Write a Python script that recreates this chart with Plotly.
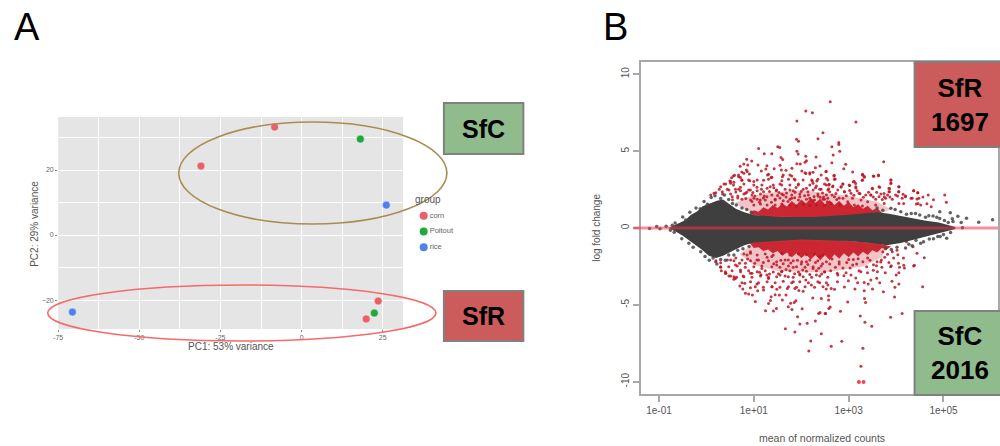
import plotly.graph_objects as go

# ---------- Panel A: PCA ----------
pc1_corn = [-8.3, -31.0, 23.6, 19.9]
pc2_corn = [33.2, 21.2, -20.3, -25.8]
pc1_poitout = [18.1, 22.4]
pc2_poitout = [29.5, -24.0]
pc1_rice = [26.1, -70.6]
pc2_rice = [9.2, -23.7]
legend_groups = ["corn", "Poitout", "rice"]
color_corn, color_poitout, color_rice = "#e8606a", "#1fa83c", "#5080ee"

# ---------- Panel B: MA plot (log10 mean, log fold change) ----------
# outline of the solid grey cloud of non-significant genes
grey_upper = [(-0.8, 0), (-0.6, 0.28), (-0.45, 0.5), (-0.33, 0.85), (-0.2, 1.08), (-0.08, 1.42), (0.08, 1.6), (0.22, 1.78), (0.35, 1.85), (0.5, 1.5),
              (0.62, 1.25), (0.8, 1.02), (1.0, 0.85), (1.55, 0.72), (2.25, 0.72), (2.94, 0.85), (3.3, 0.92), (3.6, 1.02), (3.85, 0.92), (4.1, 0.78),
              (4.3, 0.62), (4.6, 0.48), (4.9, 0.35), (5.25, 0.06)]
grey_lower = [(5.25, -0.06), (4.95, -0.3), (4.6, -0.55), (4.35, -0.75), (4.1, -0.98), (3.8, -1.12), (3.5, -1.0), (3.0, -0.85), (2.0, -0.75), (1.0, -0.95),
              (0.8, -1.12), (0.62, -1.38), (0.48, -1.58), (0.35, -1.8), (0.2, -1.95), (0.05, -1.8), (-0.1, -1.4), (-0.22, -1.12), (-0.35, -0.82), (-0.5, -0.5),
              (-0.65, -0.22), (-0.8, 0)]
# outline of the thick red bands just above and below the grey cloud
red_dense_upper = [(0.9, 0.9), (1.0, 1.15), (1.1, 1.05), (1.2, 1.35), (1.3, 1.2), (1.4, 1.5), (1.5, 1.3), (1.6, 1.6), (1.7, 1.4), (1.8, 1.75), (1.9, 1.5),
                   (2.0, 1.85), (2.1, 1.6), (2.2, 1.95), (2.3, 1.65), (2.4, 1.9), (2.5, 1.55), (2.6, 1.8), (2.7, 1.5), (2.8, 1.75), (2.9, 1.45), (3.0, 1.7),
                   (3.1, 1.35), (3.2, 1.55), (3.3, 1.25), (3.4, 1.45), (3.5, 1.15), (3.6, 1.3), (3.7, 1.0), (3.8, 1.1), (3.6, 0.9), (2.5, 0.6), (1.5, 0.6)]
red_dense_lower = [(0.9, -0.95), (1.5, -0.7), (2.5, -0.7), (3.6, -1.0), (3.9, -1.2), (3.8, -1.4), (3.7, -1.3), (3.6, -1.6), (3.5, -1.45), (3.4, -1.75),
                   (3.3, -1.55), (3.2, -1.85), (3.1, -1.6), (3.0, -1.9), (2.9, -1.65), (2.8, -2.0), (2.7, -1.7), (2.6, -2.1), (2.5, -1.75), (2.4, -2.1),
                   (2.3, -1.75), (2.2, -2.05), (2.1, -1.7), (2.0, -1.95), (1.9, -1.65), (1.8, -1.9), (1.7, -1.6), (1.6, -1.8), (1.5, -1.5), (1.4, -1.65),
                   (1.3, -1.4), (1.2, -1.5), (1.1, -1.25), (1.0, -1.3)]
# outline of the looser red speckle
red_loose_upper = [(0.6, 1.6), (0.85, 2.0), (1.3, 2.3), (2.0, 2.45), (3.0, 2.1), (3.6, 1.7), (3.9, 1.2), (3.6, 0.9), (2.0, 0.7), (1.0, 0.9)]
red_loose_lower = [(0.7, -1.7), (1.0, -2.4), (1.5, -2.8), (2.5, -2.9), (3.3, -2.5), (3.7, -1.9), (3.8, -1.15), (3.0, -0.9), (2.0, -0.8), (1.0, -1.0)]
# individually readable genes
sig_genes = [
    (2.096, 7.61), (2.235, 7.5), (1.908, 6.96), (2.458, 6.2), (2.353, 5.81), (1.9, 5.77), (1.943, 5.64), (1.101, 5.18), (1.504, 5.29),
    (1.546, 5.23), (1.908, 5.0), (1.936, 4.81), (1.219, 4.83), (1.379, 4.83), (1.574, 4.58), (1.609, 4.45), (2.096, 4.66), (2.312, 4.62),
    (2.11, 4.38), (2.08, 4.27), (0.85, 4.47), (0.955, 4.36), (0.788, 4.16), (0.871, 4.1), (0.711, 4.01), (1.087, 4.1), (1.275, 4.05),
    (1.553, 4.08), (1.908, 4.18), (1.978, 4.16), (2.395, 4.03), (2.298, 3.92), (1.428, 3.86), (1.254, 3.84), (1.581, 3.77), (1.678, 3.75),
    (1.804, 3.88), (2.012, 3.71), (2.527, 3.69), (0.843, 3.77), (0.746, 3.64), (1.157, 3.71), (0.593, 3.43), (0.676, 3.45), (0.906, 3.51),
    (1.31, 3.49), (2.096, 3.55), (2.18, 3.51), (2.249, 3.62), (0.53, 3.27), (0.718, 3.29), (0.913, 3.08), (1.0, 3.03), (1.205, 3.1),
    (1.365, 3.29), (1.602, 3.34), (1.762, 3.45), (1.852, 3.19), (2.235, 3.06), (2.33, 3.06), (0.495, 3.06), (0.579, 2.97), (0.746, 3.1),
    (2.611, 8.22), (3.154, 6.9), (2.792, 5.57), (2.792, 5.44), (2.646, 5.29), (2.813, 4.99), (2.674, 4.75), (2.646, 4.25), (2.938, 4.14),
    (3.739, 4.31), (2.897, 3.86), (2.521, 3.66), (3.085, 3.64), (2.695, 3.43), (3.293, 3.49), (3.328, 3.36), (3.53, 3.36), (3.627, 3.4),
    (2.716, 3.19), (3.286, 3.1), (3.892, 3.12), (3.892, 2.93), (3.098, 3.01), (3.147, 2.9), (2.876, 2.86), (3.022, 2.77), (2.841, 2.67),
    (2.59, 2.84), (2.66, 2.69), (3.502, 2.56), (3.655, 2.65), (4.059, 2.69), (3.864, 2.56), (4.372, 2.43), (4.455, 2.3), (4.052, 2.36),
    (3.85, 2.36), (3.238, 2.23), (3.154, 2.6), (4.149, 2.19), (4.198, 2.04), (4.031, 2.08), (4.316, 1.93), (4.441, 1.89), (4.567, 2.02),
    (4.678, 2.15), (4.789, 1.84), (5.026, 2.15), (5.061, 1.67), (4.65, 1.58), (4.462, 1.6), (2.91, 2.36), (3.467, 2.15), (3.641, 2.04),
    (3.746, 2.25), (3.78, 1.93),
    (0.09, 2.15), (0.196, 2.3), (0.3, 2.69), (0.405, 2.86), (0.51, 2.91), (0.335, 2.36), (0.474, 2.47), (0.613, 2.52), (0.718, 2.65),
    (0.544, 2.04), (0.662, 2.08), (0.822, 2.26), (0.927, 2.47), (1.066, 2.65), (1.205, 2.36), (1.344, 2.69), (1.47, 2.43), (1.588, 2.8),
    (1.762, 2.47), (1.936, 2.8), (2.11, 2.58), (2.249, 2.91), (2.388, 2.52), (2.527, 2.8), (1.0, 1.93), (1.135, 1.82), (1.275, 2.04),
    (1.449, 1.82), (1.623, 2.15), (1.797, 1.93), (1.97, 2.04), (2.18, 1.93), (2.353, 2.08), (2.492, 1.87),
    (0.927, -1.54), (0.857, -1.76), (0.196, -2.19), (0.3, -2.56), (0.405, -2.95), (0.51, -2.08), (0.613, -2.41), (0.579, -3.17),
    (0.718, -2.73), (0.822, -2.3), (0.961, -2.95), (1.066, -2.08), (1.17, -2.63), (1.275, -3.06), (1.379, -1.85), (1.483, -2.41),
    (1.588, -2.84), (1.727, -2.08), (1.831, -2.56), (1.97, -3.06), (2.11, -2.19), (2.249, -2.63), (2.388, -1.85), (2.492, -2.84),
    (2.159, -8.0), (2.2, -7.35), (2.423, -6.88), (1.866, -6.77), (1.665, -6.55), (1.971, -6.25), (2.124, -6.2), (2.298, -6.05), (1.922, -5.77),
    (1.247, -5.38), (1.414, -5.4), (1.477, -5.23), (1.727, -5.12), (1.804, -5.31), (1.776, -4.9), (1.852, -4.84), (1.887, -4.73), (2.019, -5.25),
    (2.395, -5.49), (2.367, -5.57), (2.506, -5.57), (2.583, -5.23), (1.31, -4.92), (1.031, -4.79), (1.602, -4.69), (1.351, -4.71), (1.365, -4.47),
    (1.449, -4.34), (1.539, -4.36), (1.678, -4.36), (0.822, -4.25), (0.892, -4.29), (0.969, -4.36), (1.95, -4.06), (2.04, -4.12), (2.242, -4.56),
    (2.423, -4.58), (0.767, -3.97), (0.704, -3.77), (0.809, -3.6), (0.927, -3.88), (1.066, -3.64), (1.08, -4.08), (1.205, -4.03), (1.386, -3.82),
    (1.484, -3.99), (1.706, -3.93), (1.866, -3.93), (1.832, -3.49), (2.214, -3.71), (2.388, -3.56), (2.527, -3.97), (0.579, -3.34), (0.635, -3.21),
    (0.475, -3.12), (0.405, -2.95), (0.314, -2.78), (0.774, -3.12), (0.927, -2.95), (1.15, -3.04), (1.31, -3.28), (1.553, -3.06), (1.727, -3.17),
    (1.971, -2.99), (2.096, -3.38), (2.319, -3.06),
    (3.258, -9.0), (3.3, -7.83), (2.632, -7.7), (2.855, -7.37), (3.488, -6.4), (3.342, -6.14), (3.245, -5.73), (3.885, -5.81), (4.128, -5.57),
    (2.827, -5.42), (2.514, -5.57), (2.611, -5.14), (2.98, -4.82), (3.356, -4.84), (3.335, -4.58), (3.968, -4.49), (2.577, -4.69), (2.577, -4.4),
    (3.732, -4.14), (4.56, -3.82), (3.502, -3.97), (3.328, -4.08), (3.975, -3.86), (4.059, -3.64), (3.913, -3.47), (3.655, -3.56), (3.412, -3.65),
    (3.328, -3.54), (3.467, -3.38), (3.189, -3.56), (3.133, -3.97), (2.91, -3.84), (2.994, -3.43), (2.764, -3.49), (2.632, -3.93), (2.702, -3.99),
    (2.563, -3.71), (4.003, -3.06), (4.059, -2.91), (4.177, -2.6), (4.073, -2.56), (4.386, -2.43), (3.899, -2.45), (3.773, -2.91), (3.592, -3.27),
    (3.523, -2.39), (3.676, -2.21), (3.606, -2.84), (3.398, -2.91), (3.258, -2.84), (3.085, -2.41), (2.945, -2.91), (2.771, -3.06),
    (4.442, -1.65), (4.595, -1.93), (4.156, -1.95), (4.038, -1.74), (4.372, -2.47), (4.163, -2.43), (3.885, -2.52), (3.69, -2.08), (3.586, -2.45),
    (4.358, -1.22), (4.219, -0.89), (4.518, 1.5), (4.428, 1.56), (4.741, 1.39),
]
# speckle of the upper red band
sig_upper_band = [
    (0.57, 3.38), (0.68, 3.34), (0.79, 3.56), (0.86, 3.67), (1.29, 3.45), (1.62, 3.45), (1.80, 3.38), (2.08, 3.60), (2.18, 3.60), (2.42, 3.45),
    (0.51, 3.02), (0.75, 3.12), (0.89, 3.12), (1.07, 3.12), (1.31, 3.17), (1.38, 3.30), (1.59, 3.08), (1.73, 3.17), (1.87, 3.12), (2.04, 3.12),
    (2.22, 3.12), (2.35, 3.17), (2.53, 3.23), (0.37, 2.86), (0.57, 2.80), (0.79, 2.86), (1.0, 2.80), (1.17, 2.80), (1.41, 2.80), (1.55, 2.86),
    (1.76, 2.80), (1.94, 2.86), (2.18, 2.80), (2.32, 2.73), (2.49, 2.86), (0.27, 2.52), (0.44, 2.52), (0.68, 2.52), (0.89, 2.47), (1.07, 2.43),
    (1.28, 2.58), (1.48, 2.47), (1.66, 2.52), (1.83, 2.43), (2.04, 2.52), (2.25, 2.47), (2.42, 2.52), (2.56, 2.47), (0.16, 2.26), (0.34, 2.21),
    (0.51, 2.21), (0.79, 2.21), (0.96, 2.15), (1.14, 2.21), (1.38, 2.15), (1.59, 2.21), (1.80, 2.15), (1.97, 2.21), (2.15, 2.15), (2.35, 2.21),
    (2.53, 2.15), (0.75, 1.87), (0.93, 1.82), (1.07, 1.87), (1.24, 1.82), (1.45, 1.87), (1.62, 1.78), (1.76, 1.87), (1.94, 1.82), (2.11, 1.87),
    (2.28, 1.82), (2.46, 1.87), (1.0, 1.50), (1.14, 1.56), (1.28, 1.50), (1.45, 1.50), (1.59, 1.56), (1.76, 1.50), (1.90, 1.43), (2.04, 1.54),
    (2.18, 1.47), (2.32, 1.52), (2.49, 1.47),
    (2.69, 3.38), (2.70, 3.17), (2.56, 3.12), (2.58, 2.80), (2.67, 2.73), (2.88, 2.86), (2.84, 2.69), (3.01, 2.80), (3.12, 3.02), (3.15, 2.69),
    (3.29, 3.45), (3.33, 3.30), (3.29, 3.12), (3.52, 3.38), (3.63, 3.45), (3.89, 3.12), (3.89, 2.90), (3.50, 2.58), (3.64, 2.69), (4.06, 2.69),
    (3.85, 2.58), (4.06, 2.36), (3.86, 2.36), (4.37, 2.43), (4.46, 2.30), (2.60, 2.36), (2.77, 2.47), (2.91, 2.36), (3.05, 2.26), (3.22, 2.26),
    (3.36, 2.15), (3.47, 2.15), (3.68, 2.21), (3.82, 2.15), (3.99, 2.15), (4.20, 2.08), (4.13, 1.93), (4.34, 1.93), (4.48, 1.93), (2.70, 2.04),
    (2.88, 1.93), (3.08, 1.93), (3.26, 1.82), (3.57, 1.87), (3.75, 2.04), (3.92, 1.87), (4.16, 1.60), (4.06, 1.60), (2.56, 1.93), (2.98, 1.71),
    (3.40, 1.71), (3.57, 1.50), (3.75, 1.60), (2.63, 1.60), (2.81, 1.50), (3.12, 1.50), (3.29, 1.43),
    (0.62, 2.35), (0.72, 2.42), (0.85, 2.33), (0.98, 2.31), (1.02, 2.08), (1.16, 2.52), (1.22, 2.08), (1.33, 2.37), (1.42, 2.62), (1.5, 2.12),
    (1.53, 2.31), (1.68, 2.02), (1.69, 2.28), (1.87, 2.33), (1.89, 2.63), (2.0, 2.38), (2.07, 2.1), (2.14, 2.36), (2.27, 2.05), (2.3, 2.62),
    (2.45, 2.28), (2.47, 2.02), (2.58, 2.55), (2.65, 2.14), (2.73, 2.25), (2.8, 1.95), (2.95, 2.1), (3.02, 2.44), (3.11, 2.13), (3.18, 2.42),
    (3.31, 2.0), (3.42, 2.33), (3.52, 2.02), (3.59, 2.33), (3.71, 1.86), (3.87, 2.02), (0.55, 1.83), (0.66, 1.95), (0.83, 1.92), (0.96, 1.72),
    (1.12, 1.68), (1.2, 1.95), (1.37, 1.68), (1.55, 1.95), (1.72, 1.72), (1.86, 1.96), (2.24, 1.78), (2.4, 2.0), (2.55, 1.7), (2.75, 1.85),
]
# speckle of the lower red band
sig_lower_band = [
    (0.20, -2.13), (0.30, -2.26), (0.44, -2.08), (0.58, -2.13), (0.75, -2.08), (0.93, -2.13), (1.10, -2.08), (1.31, -2.13), (1.48, -2.19),
    (1.66, -2.08), (1.83, -2.13), (2.01, -2.19), (2.18, -2.08), (2.35, -2.13), (2.53, -2.19), (0.30, -2.52), (0.47, -2.52), (0.65, -2.47),
    (0.82, -2.56), (1.0, -2.52), (1.17, -2.47), (1.38, -2.52), (1.55, -2.56), (1.73, -2.47), (1.90, -2.52), (2.08, -2.56), (2.25, -2.52),
    (2.42, -2.47), (0.40, -2.84), (0.54, -2.78), (0.72, -2.84), (0.89, -2.78), (1.07, -2.84), (1.24, -2.78), (1.41, -2.86), (1.59, -2.82),
    (1.76, -2.78), (1.94, -2.86), (2.11, -2.82), (2.32, -2.78), (2.49, -2.86), (0.51, -3.12), (0.61, -3.28), (0.79, -3.17), (0.96, -3.21),
    (1.14, -3.12), (1.31, -3.21), (1.48, -3.17), (1.66, -3.12), (1.83, -3.21), (2.04, -3.17), (2.22, -3.21), (2.39, -3.12), (2.56, -3.21),
    (0.75, -3.56), (0.93, -3.49), (1.10, -3.56), (1.28, -3.49), (1.45, -3.56), (1.62, -3.47), (1.80, -3.56), (1.97, -3.49), (2.15, -3.56),
    (2.35, -3.49), (2.53, -3.56), (1.03, -3.82), (1.20, -3.86), (1.38, -3.82), (1.55, -3.86), (1.73, -3.82), (1.90, -3.86), (2.08, -3.82),
    (2.28, -3.86), (2.46, -3.82), (0.79, -1.69), (0.93, -1.65), (1.07, -1.76), (1.24, -1.69), (1.41, -1.76), (1.59, -1.65), (1.76, -1.76),
    (1.94, -1.69), (2.11, -1.74), (2.28, -1.69), (2.46, -1.76),
    (0.62, -1.95), (0.7, -2.3), (0.87, -2.02), (1.02, -2.3), (1.2, -2.25), (1.28, -1.9), (1.42, -2.32), (1.57, -2.1), (1.62, -2.32), (1.78, -2.28),
    (1.92, -2.1), (2.0, -2.35), (2.14, -2.38), (2.3, -2.25), (2.45, -2.32), (2.6, -2.35), (2.65, -2.02), (2.72, -2.55), (2.8, -2.2), (2.88, -2.6),
    (2.96, -2.25), (3.03, -2.6), (3.1, -2.05), (3.17, -2.35), (3.22, -2.78), (3.3, -2.2), (3.38, -2.52), (3.45, -2.1), (3.52, -2.75), (3.6, -2.2),
    (3.7, -2.55), (3.76, -1.9), (3.85, -2.25), (3.95, -1.95), (4.05, -2.3), (2.62, -2.78), (2.76, -2.95), (2.9, -3.1), (3.05, -3.05), (3.15, -3.25),
    (1.12, -2.88), (1.33, -3.0), (1.52, -2.98), (1.68, -2.7), (1.86, -2.98), (2.03, -2.74), (2.18, -3.02), (2.37, -2.62), (2.43, -3.0),
    (3.72, -1.55), (3.82, -1.7), (3.92, -1.55), (4.02, -1.45), (3.4, -1.95), (3.2, -2.0), (3.0, -2.05), (2.8, -2.35),
]
capped_genes = [(3.217, -10.02), (3.314, -10.02)]
grey_genes = [(6.035, 0.54), (5.743, 0.37), (5.485, 0.63), (5.4, 0.02), (5.304, 0.76), (5.374, 0.35), (5.144, 1.0), (5.186, 0.6), (5.068, -0.67),
              (4.922, 1.06), (-1.05, 0.1), (-0.85, 0.12), (-0.98, -0.05), (-1.2, -0.03), (-0.72, 0.18), (-0.76, -0.15),
              (-0.66, 0.33), (-0.5, 0.72), (-0.44, 0.52), (-0.35, 1.02), (-0.22, 1.3), (-0.13, 1.25), (-0.05, 1.72), (0.02, 1.55), (0.1, 1.98), (0.18, 2.1),
              (0.3, 1.92), (0.38, 2.15), (0.47, 1.85), (0.55, 1.6), (0.63, 1.5), (0.75, 1.3), (0.85, 1.2), (0.95, 1.02),
              (-0.68, -0.28), (-0.52, -0.7), (-0.37, -1.0), (-0.28, -1.25), (-0.12, -1.55), (-0.03, -1.85), (0.06, -2.1), (0.14, -1.95), (0.22, -2.35),
              (0.3, -2.05), (0.4, -2.1), (0.47, -1.75), (0.58, -1.75), (0.66, -1.45), (0.77, -1.35), (0.9, -1.2),
              (3.6, 1.3), (3.72, 1.15), (3.89, 1.28), (3.98, 1.2), (4.1, 1.05), (4.22, 0.9), (4.32, 0.95), (4.41, 0.95), (4.5, 0.85), (4.62, 0.7), (4.69, 0.8),
              (4.78, 0.78), (4.86, 0.7), (4.92, 0.62), (5.02, 0.48), (5.1, 0.35), (5.2, 0.42),
              (3.78, -1.35), (3.9, -1.4), (4.02, -1.25), (4.2, -1.3), (4.27, -1.05), (4.34, -1.15), (4.42, -0.8), (4.52, -1.0), (4.58, -0.9), (4.7, -0.72),
              (4.79, -0.7), (4.88, -0.55), (4.93, -0.55), (5.0, -0.42), (5.15, -0.3)]


def xs(pairs):
    return [10 ** p[0] for p in pairs]


def ys(pairs):
    return [p[1] for p in pairs]


fig = go.Figure()

# Panel A traces
for name, px_, py_, c in [("corn", pc1_corn, pc2_corn, color_corn), ("Poitout", pc1_poitout, pc2_poitout, color_poitout),
                          ("rice", pc1_rice, pc2_rice, color_rice)]:
    fig.add_trace(go.Scatter(x=px_, y=py_, mode="markers", name=name, showlegend=False, xaxis="x", yaxis="y",
                             marker=dict(size=8, color=c, line=dict(color="rgba(255,255,255,0.5)", width=1))))
fig.add_trace(go.Scatter(x=[0, 0, 0], y=legend_groups, mode="markers+text", text=legend_groups, textposition="middle right",
                         textfont=dict(size=7.5, color="#666666", family="Liberation Sans"), showlegend=False, xaxis="x3", yaxis="y3",
                         marker=dict(size=8, color=[color_corn, color_poitout, color_rice])))

# Panel B traces
for outline, fc in [(red_loose_upper, "rgba(215,60,70,0.30)"), (red_loose_lower, "rgba(215,60,70,0.30)"),
                    (red_dense_upper, "rgba(196,10,24,0.85)"), (red_dense_lower, "rgba(196,10,24,0.85)")]:
    fig.add_trace(go.Scatter(x=xs(outline) + xs(outline[:1]), y=ys(outline) + ys(outline[:1]), mode="lines", fill="toself",
                             fillcolor=fc, line=dict(width=0), showlegend=False, xaxis="x2", yaxis="y2"))
all_sig = sig_genes + sig_upper_band + sig_lower_band
fig.add_trace(go.Scatter(x=xs(all_sig), y=ys(all_sig), mode="markers", showlegend=False, xaxis="x2", yaxis="y2",
                         marker=dict(size=3, color="#bb1525", opacity=0.85)))
fig.add_trace(go.Scatter(x=xs(grey_upper + grey_lower), y=ys(grey_upper + grey_lower), mode="lines", fill="toself",
                         fillcolor="#3f3f3f", line=dict(width=0), showlegend=False, xaxis="x2", yaxis="y2"))
fig.add_trace(go.Scatter(x=xs(grey_genes), y=ys(grey_genes), mode="markers", showlegend=False, xaxis="x2", yaxis="y2",
                         marker=dict(size=3.5, color="#464646", opacity=0.85)))
fig.add_trace(go.Scatter(x=xs(capped_genes), y=ys(capped_genes), mode="markers", showlegend=False, xaxis="x2", yaxis="y2",
                         marker=dict(size=4, color="#ee4455", symbol="circle")))

GRID = dict(showgrid=True, gridcolor="white", gridwidth=1.2, zeroline=False, ticks="outside", ticklen=2, tickcolor="#888888",
            tickfont=dict(size=7, color="#666666", family="Liberation Sans"))
RAXIS = dict(showgrid=False, zeroline=False, showline=True, linecolor="#a8a8a8", linewidth=2, mirror=True, ticks="outside", ticklen=6,
             tickwidth=1.5, tickcolor="#a8a8a8", tickfont=dict(size=10, color="#555555", family="Liberation Sans"))

pca_x_range = [-75, 31.3]
pca_y_range = [-28.9, 36.3]

shapes = [
    dict(type="rect", xref="x", yref="y", x0=pca_x_range[0], x1=pca_x_range[1], y0=pca_y_range[0], y1=pca_y_range[1],
         fillcolor="#e5e5e5", line=dict(width=0), layer="below"),
    dict(type="circle", xref="paper", yref="paper", x0=0.175, x1=0.445, y0=1 - 224 / 446, y1=1 - 122 / 446,
         line=dict(color="#a98c52", width=1.6)),
    dict(type="circle", xref="paper", yref="paper", x0=0.043, x1=0.434, y0=1 - 341 / 446, y1=1 - 285 / 446,
         line=dict(color="#f56a6a", width=1.6)),
    dict(type="line", xref="paper", yref="y2", x0=0.633, x1=1.0, y0=0, y1=0, line=dict(color="rgba(250,50,75,0.55)", width=3)),
    dict(type="rect", xref="paper", yref="paper", x0=0.442, x1=0.522, y0=1 - 154 / 446, y1=1 - 103 / 446,
         fillcolor="#8fbb8d", line=dict(color="#808080", width=2)),
    dict(type="rect", xref="paper", yref="paper", x0=0.442, x1=0.522, y0=1 - 341 / 446, y1=1 - 291 / 446,
         fillcolor="#cc5c5c", line=dict(color="#808080", width=2)),
    dict(type="rect", xref="paper", yref="paper", x0=0.916, x1=1.005, y0=1 - 147 / 446, y1=1 - 62 / 446,
         fillcolor="#cc5c5c", line=dict(color="#808080", width=2)),
    dict(type="rect", xref="paper", yref="paper", x0=0.916, x1=1.005, y0=1 - 395 / 446, y1=1 - 311 / 446,
         fillcolor="#8fbb8d", line=dict(color="#808080", width=2)),
]


def note(text, x, y, size, color="black", bold=False, angle=0):
    return dict(text=f"<b>{text}</b>" if bold else text, x=x / 1000, y=1 - y / 446, xref="paper", yref="paper", showarrow=False,
                xanchor="center", yanchor="middle", textangle=angle, font=dict(size=size, color=color, family="Liberation Sans"))


annotations = [
    note("A", 22, 27, 38), note("B", 615, 27, 38),
    note("SfC", 482, 129, 25, bold=True), note("SfR", 482, 316, 25, bold=True),
    note("SfR<br>1697", 962, 105, 26, bold=True), note("SfC<br>2016", 962, 353, 26, bold=True),
    note("PC1: 53% variance", 228, 346, 10, "#555555"), note("PC2: 29% variance", 29, 224, 10, "#555555", angle=-90),
    note("group", 426, 200, 10, "#555555"),
    note("log fold change", 595, 228, 10, "#555555", angle=-90), note("mean of normalized counts", 823, 438, 10.5, "#555555"),
]

fig.update_layout(
    width=1000, height=446, margin=dict(l=0, r=0, t=0, b=0), paper_bgcolor="white", plot_bgcolor="white", showlegend=False,
    xaxis=dict(domain=[0.0535, 0.401], range=pca_x_range, tickvals=[-75, -50, -25, 0, 25], ticktext=["-75", "-50", "-25", "0", "25"],
               minor=dict(dtick=12.5, tick0=0, showgrid=True, gridcolor="white", gridwidth=0.5), **GRID),
    yaxis=dict(domain=[1 - 329 / 446, 1 - 117 / 446], range=pca_y_range, tickvals=[-20, 0, 20],
               minor=dict(dtick=10, tick0=0, showgrid=True, gridcolor="white", gridwidth=0.5), **GRID),
    xaxis2=dict(domain=[0.6403, 1.0], type="log", range=[-1.384, 6.15], anchor="y2", tickvals=[0.1, 10, 1000, 100000],
                ticktext=["1e-01", "1e+01", "1e+03", "1e+05"], **RAXIS),
    yaxis2=dict(domain=[1 - 394 / 446, 1 - 62 / 446], range=[-10.8, 10.8], anchor="x2", tickvals=[-10, -5, 0, 5, 10],
                ticktext=["-10", "-5", "0", "5", "10"], tickangle=-90, **RAXIS),
    xaxis3=dict(domain=[0.417, 0.477], range=[-0.35, 4.2], visible=False, anchor="y3"),
    yaxis3=dict(domain=[1 - 255 / 446, 1 - 208 / 446], type="category", categoryorder="array", categoryarray=legend_groups,
                range=[2.5, -0.5], visible=False, anchor="x3"),
    shapes=shapes, annotations=annotations,
)

fig.write_html("out.html", config={"displayModeBar": False},
               post_script="document.body.style.margin='0';document.body.style.overflow='hidden';")
